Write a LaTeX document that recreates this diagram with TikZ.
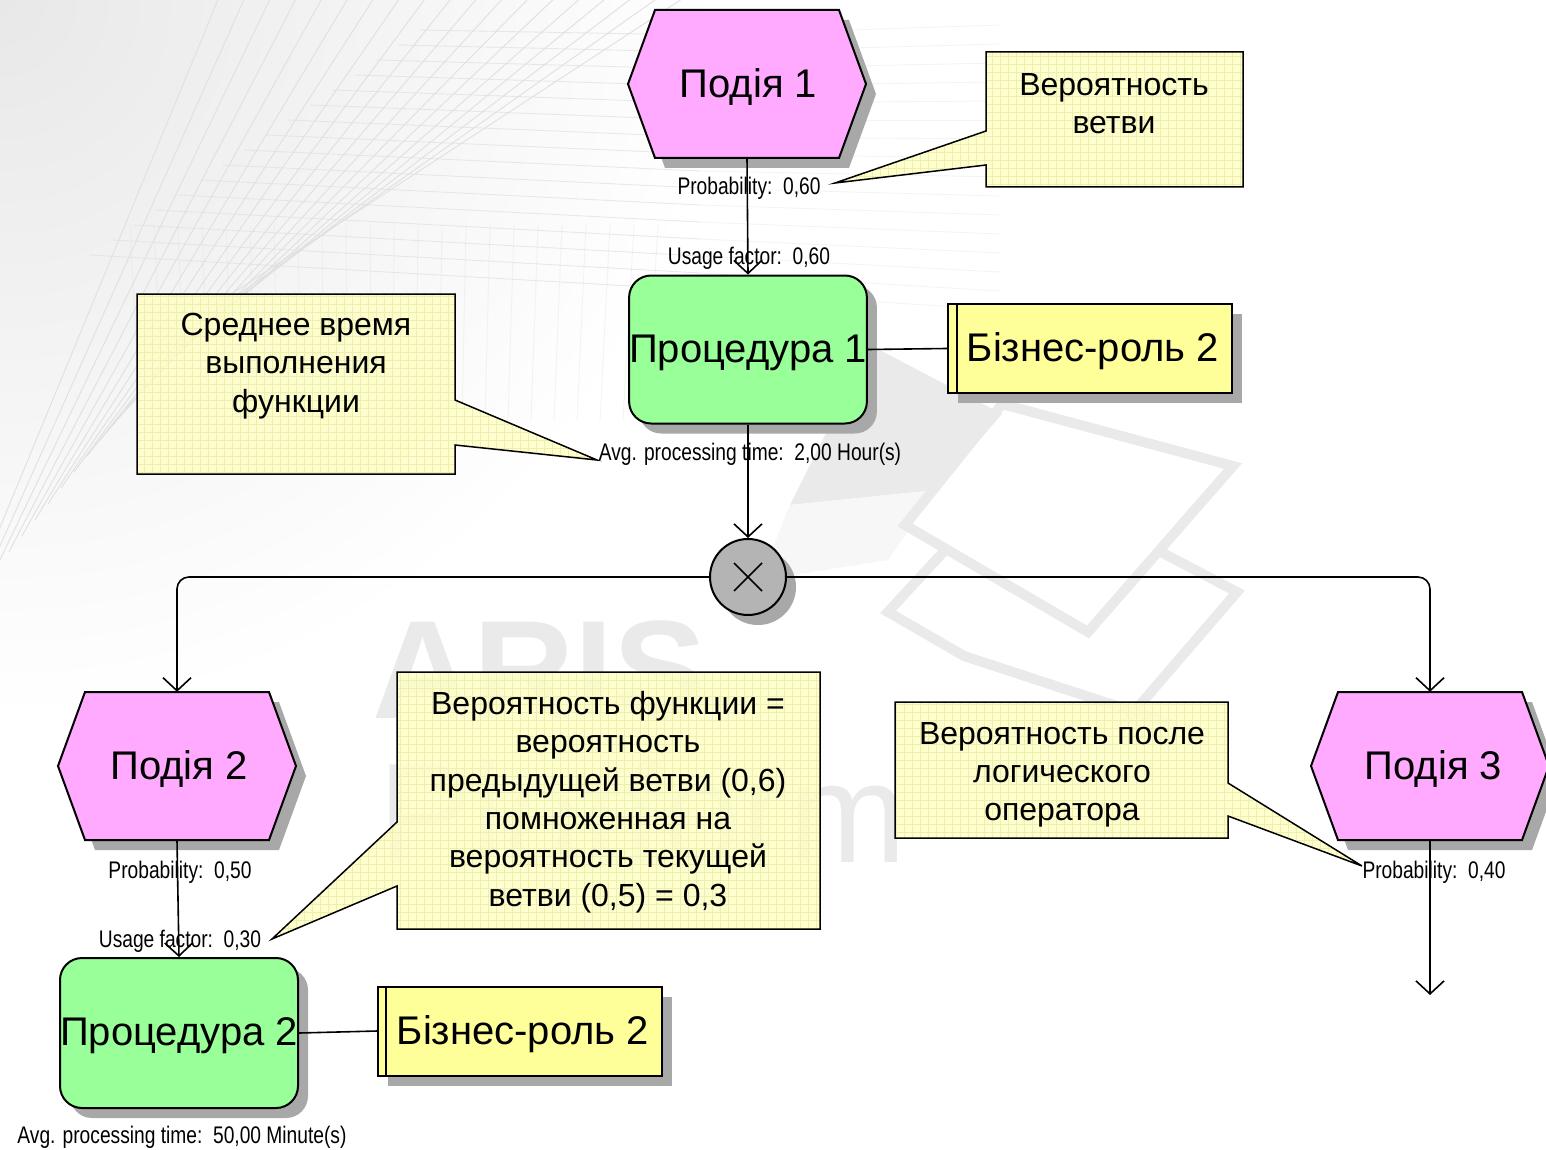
\documentclass[tikz,border=0pt]{standalone}
\usepackage{fontspec}
\setmainfont{Liberation Sans}
\newfontfamily\narrowfont{Liberation Sans}[FakeStretch=0.8]
\usetikzlibrary{arrows.meta,shadows,calc}
\definecolor{evtc}{HTML}{FFAAFF}
\definecolor{funcc}{HTML}{99FF99}
\definecolor{rolec}{HTML}{FFFF99}
\definecolor{notec}{HTML}{FFFFC6}
\definecolor{gridc}{HTML}{EEEEB0}
\definecolor{shadc}{HTML}{A8A8A8}
\definecolor{xorc}{HTML}{B4B4B4}
\definecolor{wmc}{HTML}{EAEAEA}
\definecolor{fanc}{HTML}{E0E0E0}
\newcommand{\dn}[1]{\raisebox{-3pt}[\height][\depth]{#1}}
\begin{document}
\begin{tikzpicture}[x=1pt,y=-1pt,
  shad/.style={drop shadow={shadow xshift=10pt,shadow yshift=-10pt,fill=shadc,opacity=1}},
  bigtxt/.style={font=\fontsize{40}{48}\selectfont},
  evtbox/.style={rectangle,minimum width=238pt,minimum height=148pt,inner sep=0pt,bigtxt},
  hexpath/.style={draw,line width=2pt,fill=evtc,line join=miter,shad},
  funcbox/.style={rectangle,rounded corners=22pt,draw,line width=2pt,fill=funcc,minimum width=236pt,minimum height=148pt,inner sep=0pt,bigtxt,shad},
  rolebox/.style={rectangle,draw,line width=2pt,fill=rolec,minimum width=284pt,minimum height=89pt,inner sep=0pt,bigtxt,shad},
  xorbox/.style={circle,draw,line width=2pt,fill=xorc,minimum size=76pt,inner sep=0pt,shad},
  conn/.style={line width=1.6pt},
  arr/.style={conn,-{Straight Barb[length=13pt,width=28pt,line width=1.6pt]}},
  lab/.style={font=\narrowfont\fontsize{24}{28}\selectfont,inner sep=0pt},
  ntxt/.style={font=\fontsize{32}{38.3}\selectfont,align=center,inner sep=0pt},
  notepath/.style={draw,line width=1.5pt,fill=notec,fill opacity=0.85,line join=miter,
    path picture={\draw[gridc,line width=0.5pt,step=8pt] (path picture bounding box.south west) grid (path picture bounding box.north east);}},
  wmline/.style={fanc,line width=0.9pt}
]
\useasboundingbox (0,0) rectangle (1546,1150);
\clip (0,0) rectangle (1546,1150);
\fill[white] (0,0) rectangle (1546,1150);
% ---------- watermark background ----------
\shade[inner color=black!9,outer color=white] (0,0) circle (720pt);
\foreach \i in {0,...,18} {
  \draw[wmline] (-30+13*\i, 600-16*\i) -- (220+26*\i, -5);
}
\foreach \i in {0,...,15} {
  \draw[wmline,opacity=0.7] (90+22*\i, 255-15*\i) -- (700, 290-17*\i);
  \draw[wmline,opacity=0.35] (700, 290-17*\i) -- (1000, 310-19*\i);
}
\foreach \i in {0,...,22} {
  \draw[wmline,opacity=0.35] (130+24*\i, 225) -- (140+23*\i, 420);
}
\fill[wmc] (870,345) -- (1002,414) -- (936,490) -- (790,505) -- cycle;
\fill[black!3] (790,505) -- (936,490) -- (888,560) -- (760,580) -- cycle;
\draw[wmc,line width=10pt,line join=miter] (1002,404) -- (1233,466) -- (1088,632) -- (905,525) -- cycle;
\draw[wmc,line width=10pt,line join=miter] (947,548) -- (888,612) -- (964,656) -- (1199,733);
\draw[wmc,line width=10pt,line join=miter] (1161,552) -- (1237,592) -- (1120,728);
\node[font=\bfseries\fontsize{140}{140}\selectfont,text=wmc,anchor=base west,inner sep=0pt] (wmA) at (372,718) {ARIS};
\node[font=\fontsize{142}{142}\selectfont,text=wmc,anchor=base west,inner sep=0pt] (wmB) at (378,862) {Platform};
% ---------- callouts ----------
\draw[notepath] (986,52) -- (1243,52) -- (1243,187) -- (986,187) -- (986,165) -- (835,183) -- (986,131) -- cycle;
\draw[notepath] (137,294) -- (455,294) -- (455,400) -- (597,460) -- (455,445) -- (455,474) -- (137,474) -- cycle;
\draw[notepath] (397,672) -- (820,672) -- (820,929) -- (397,929) -- (397,886) -- (272,939) -- (397,822) -- cycle;
\draw[notepath] (895,702) -- (1228,702) -- (1228,783) -- (1362,866) -- (1228,816) -- (1228,838) -- (895,838) -- cycle;
\node[ntxt] (n1) at (1114,104) {Вероятность\\ветви};
\node[ntxt] (n2) at (296,366) {Среднее время\\выполнения\\функции};
\node[ntxt] (n3) at (608,802) {Вероятность функции =\\вероятность\\предыдущей ветви (0,6)\\помноженная на\\вероятность текущей\\ветви (0,5) = 0,3};
\node[ntxt] (n4) at (1062,775) {Вероятность после\\логического\\оператора};
% ---------- events (hexagons) ----------
\foreach \cx/\cy in {747/84, 177/766, 1430/766} {
  \path[hexpath] (\cx-119,\cy) -- (\cx-92,\cy-74) -- (\cx+92,\cy-74) -- (\cx+119,\cy) -- (\cx+92,\cy+74) -- (\cx-92,\cy+74) -- cycle;
}
\node[evtbox] (e1) at (747,84) {\dn{\hspace*{3pt}Подія 1}};
\node[evtbox] (e2) at (177,766) {\dn{\hspace*{4pt}Подія 2}};
\node[evtbox] (e3) at (1430,766) {\dn{\hspace*{7pt}Подія 3}};
% ---------- functions ----------
\node[funcbox] (f1) at (748,349.5) {\dn{Процедура 1}};
\node[funcbox,minimum width=238pt,minimum height=150pt] (f2) at (179,1033) {\dn{Процедура 2}};
% ---------- roles ----------
\node[rolebox] (r1) at (1090,348.5) {\dn{\hspace*{6pt}Бізнес-роль 2}};
\node[rolebox] (r2) at (520,1031) {\dn{\hspace*{6pt}Бізнес-роль 2}};
\draw[line width=1.5pt] ($(r1.north west)+(10,0)$) -- ($(r1.south west)+(10,0)$);
\draw[line width=1.5pt] ($(r2.north west)+(9,0)$) -- ($(r2.south west)+(9,0)$);
% ---------- XOR ----------
\node[xorbox] (x) at (748,577) {};
\draw[line width=1.5pt] ($(x.center)+(-14,-14)$) -- ($(x.center)+(14,14)$);
\draw[line width=1.5pt] ($(x.center)+(-14,14)$) -- ($(x.center)+(14,-14)$);
% ---------- connectors ----------
\coordinate (endp) at (1430,995);
\draw[arr] (e1.south) -- (f1.north);
\draw[conn] (f1.east) -- (r1.west);
\draw[arr] (f1.south) -- (x.north);
\draw[arr,rounded corners=12pt] (x.west) -| (e2.north);
\draw[arr,rounded corners=12pt] (x.east) -| (e3.north);
\draw[arr] (e2.south) -- (f2.north);
\draw[conn] (f2.east) -- (r2.west);
\draw[arr] (e3.south) -- (endp);
% ---------- labels ----------
\node[lab] (p1) at (749,188) {Probability:\ \ 0,60};
\node[lab] (u1) at (749,258) {Usage factor:\ \ 0,60};
\node[lab] (a1) at (750,454) {Avg. processing time:\ \ 2,00 Hour(s)};
\node[lab] (p2) at (180,872) {Probability:\ \ 0,50};
\node[lab] (u2) at (180,941) {Usage factor:\ \ 0,30};
\node[lab] (a2) at (182,1137) {Avg. processing time:\ \ 50,00 Minute(s)};
\node[lab] (p3) at (1434,872) {Probability:\ \ 0,40};
\end{tikzpicture}
\end{document}
